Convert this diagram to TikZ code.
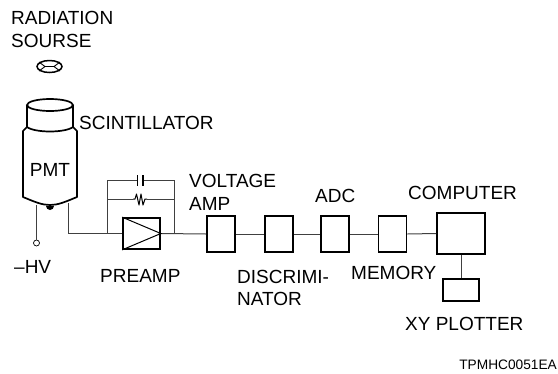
\documentclass[tikz,border=0pt]{standalone}
\usepackage{fontspec}
\setmainfont{Liberation Sans}
\begin{document}
\begin{tikzpicture}[
  x=1pt, y=-1pt,
  unit/.style={draw=black, line width=1.7pt, fill=white, minimum width=#1, inner sep=0pt},
  label/.style={font=\fontsize{19}{22.5}\selectfont, inner sep=0pt, anchor=west, align=left},
  wire/.style={draw=black!75, line width=1pt},
  tube/.style={draw=black, line width=1.7pt}
]
\useasboundingbox (0,0) rectangle (558,373);

% === Signal chain ===
\node[unit=37pt, minimum height=31pt] (preamp) at (141.5,233.5) {};
\node[unit=28pt, minimum height=36pt] (vamp) at (221,234) {};
\node[unit=28pt, minimum height=36pt] (discr) at (279,234) {};
\node[unit=28pt, minimum height=36pt] (adc) at (335,234) {};
\node[unit=28pt, minimum height=36pt] (memory) at (392.5,234) {};
\node[unit=48pt, minimum height=41pt] (computer) at (461,233.5) {};
\node[unit=36pt, minimum height=22pt] (plotter) at (461,290) {};

% === Coordinates ===
\coordinate (pmtout) at (68,203);
\coordinate (pmthv) at (36.5,205);
\coordinate (fbleft) at (107,233);
\coordinate (fbright) at (174,233);
\coordinate (capleft) at (137.5,180);
\coordinate (capright) at (143,180);
\coordinate (resleft) at (133,199);
\coordinate (resright) at (147,199);

% === Wires ===
\draw[wire] (pmtout) |- (preamp.west);
\draw[wire] (preamp.east) -- (vamp.west);
\draw[wire] (vamp.east) -- (discr.west);
\draw[wire] (discr.east) -- (adc.west);
\draw[wire] (adc.east) -- (memory.west);
\draw[wire] (memory.east) -- (computer.west);
\draw[wire] (computer.south) -- (plotter.north);

% === Feedback capacitor and resistor ===
\draw[wire] (fbleft) |- (capleft);
\draw[wire] (fbright) |- (capright);
\draw[wire] (fbleft) |- (resleft);
\draw[wire] (fbright) |- (resright);
\draw[wire, draw=black, line width=1.2pt] (137.5,175) -- (137.5,186) (143,175) -- (143,186);
\draw[wire, draw=black, line join=round] (resleft) -- (135,199) -- (136.5,194) -- (139,205) -- (141,194) -- (143,205) -- (145,199) -- (resright);

% === Preamp triangle ===
\draw[wire, draw=black] (preamp.north west) -- (preamp.east) -- (preamp.south west);

% === PMT and scintillator ===
\draw[tube, line join=round] (27,127) -- (23,131) -- (23,197)
  .. controls (35,202) and (42,205) .. (50,205)
  .. controls (58,205) and (65,202) .. (77,197) -- (77,131) -- (73,127);
\draw[tube] (27,105) -- (27,127) .. controls (35,133) and (65,133) .. (73,127) -- (73,105);
\draw[tube] (50,105) ellipse (23pt and 6pt);
\fill[black] (46,206) arc[start angle=180, end angle=360, radius=4pt] -- cycle;

% === High voltage terminal ===
\node[circle, draw=black, line width=0.7pt, fill=white, minimum size=6pt, inner sep=0pt] (hv) at (36.5,243) {};
\draw[wire] (pmthv) -- (hv.north);

% === Radiation source ===
\draw[tube, line width=1.5pt] (49.5,66.5) ellipse (12.5pt and 6pt);
\draw[tube, line width=0.9pt] (39,62) -- (45,66.5) -- (54,66.5) -- (60,62) (39,71) -- (45,66.5) (54,66.5) -- (60,71);

% === Labels ===
\node[label] (radlabel) at (11,29.5) {RADIATION\\SOURSE};
\node[label] (scilabel) at (79,123) {SCINTILLATOR};
\node[label, anchor=center] (pmtlabel) at (50,170) {PMT};
\node[label] (hvlabel) at (14,267) {–HV};
\node[label] (prelabel) at (100,276) {PREAMP};
\node[label] (vamplabel) at (189,192.5) {VOLTAGE\\AMP};
\node[label] (disclabel) at (237,288) {DISCRIMI-\\NATOR};
\node[label] (adclabel) at (315,196) {ADC};
\node[label] (memlabel) at (351,273) {MEMORY};
\node[label] (complabel) at (408,193) {COMPUTER};
\node[label] (plotlabel) at (405,324) {XY PLOTTER};
\node[font=\fontsize{13.7}{16}\selectfont, inner sep=0pt, anchor=east] (codelabel) at (557,365) {TPMHC0051EA};

\end{tikzpicture}
\end{document}
